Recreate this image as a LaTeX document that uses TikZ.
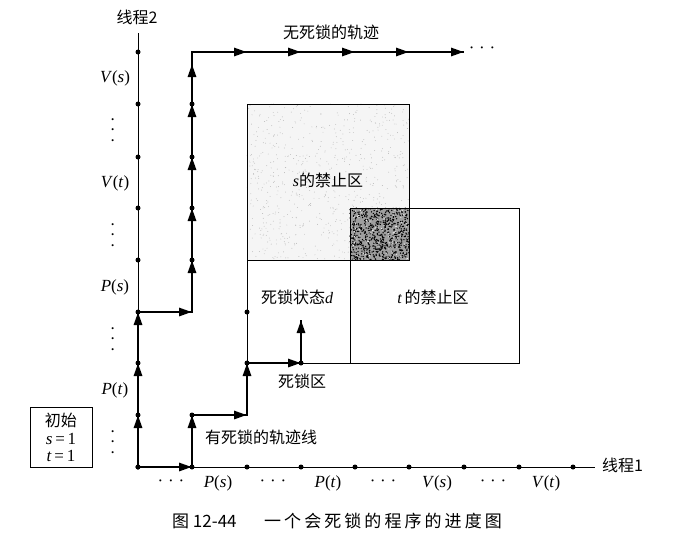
\documentclass[tikz,border=0pt]{standalone}
\usepackage{fontspec}
\setmainfont{Liberation Serif}
\newfontfamily\cjk{Noto Sans CJK SC}
\newfontfamily\cjkwide[LetterSpace=18]{Noto Sans CJK SC}
\usetikzlibrary{arrows.meta}

% operation names set as italic letters with upright parentheses
\newcommand{\opname}[2]{\textit{#1}(\textit{#2})}
\newcommand{\hdots}{·\hspace{0.28em}·\hspace{0.28em}·}
% an italic serif variable inside a CJK label
\newcommand{\ivar}[1]{{\rmfamily\itshape #1}}

\begin{document}
\begin{tikzpicture}[x=1pt,y=-1pt,
  axisline/.style={line width=0.9pt},
  thinbox/.style={line width=0.9pt},
  boldline/.style={line width=2.8pt},
  traj/.style={line width=2.8pt,-{Triangle[length=13pt,width=8pt]}},
  dot/.style={circle,fill,inner sep=0pt,minimum size=5pt},
  cjklabel/.style={font=\cjk\fontsize{16}{16}\selectfont,inner sep=0pt},
  oplabel/.style={font=\fontsize{17}{17}\selectfont,inner sep=0pt},
  vdotlabel/.style={font=\fontsize{17}{17}\selectfont,inner sep=0pt,rotate=90},
]
\useasboundingbox (0,0) rectangle (673,541);

% grid of process states: g<i>-<j>, i along thread 1, j along thread 2
\foreach \xv [count=\i from 0] in {138,192,247,301,355,409,464,519,573} {
  \foreach \yv [count=\j from 0] in {467,415,363,312,260,208,157,104,52} {
    \coordinate (g\i-\j) at (\xv,\yv);
  }
}
\coordinate (tcorner) at (350,208);
\coordinate (tbottom) at (350,363);
\coordinate (ax2top) at (138,33);
\coordinate (ax1end) at (595,467);
\coordinate (dend) at (301,320);

% forbidden region of s: light stipple
\fill[gray!8] (g2-7) rectangle (g5-4);
\pgfmathsetseed{4242}
\foreach \k in {1,...,700} {
  \fill[gray!55] ({247+162*rnd},{104+155*rnd}) circle (0.45pt);
}
% overlap of both regions: dense dark stipple
\fill[gray!75] (tcorner) rectangle (g5-4);
\foreach \k in {1,...,650} {
  \fill[black] ({350+59*rnd},{208+52*rnd}) circle (0.75pt);
}
\foreach \k in {1,...,140} {
  \fill[white] ({350+59*rnd},{208+52*rnd}) circle (0.5pt);
}
\draw[thinbox] (g2-7) rectangle (g5-4);
\draw[thinbox] (tcorner) rectangle (g7-2);
% deadlock region sides
\draw[thinbox] (g2-4) -- (g2-2) -- (tbottom);

% axes
\draw[axisline] (g0-0) -- (ax2top);
\draw[axisline] (g0-0) -- (ax1end);
\foreach \k in {0,...,8} {
  \node[dot] (va\k) at (g0-\k) {};
  \node[dot] (ha\k) at (g\k-0) {};
}

% trajectory that avoids deadlock
\draw[boldline,line join=miter] (g0-0) -- (g0-3) -- (g1-3) -- (g1-8) -- (g6-8);
\draw[traj] (g0-0) -- (g0-1);
\draw[traj] (g0-1) -- (g0-2);
\draw[traj] (g0-2) -- (g0-3);
\draw[traj] (g0-3) -- (g1-3);
\draw[traj] (g1-3) -- (g1-4);
\draw[traj] (g1-4) -- (g1-5);
\draw[traj] (g1-5) -- (g1-6);
\draw[traj] (g1-6) -- (g1-7);
\draw[traj,shorten >=12pt] (g1-7) -- (g1-8);
\draw[traj] (g1-8) -- (g2-8);
\draw[traj] (g2-8) -- (g3-8);
\draw[traj] (g3-8) -- (g4-8);
\draw[traj] (g4-8) -- (g5-8);
\draw[traj] (g5-8) -- (g6-8);
\foreach \k in {4,...,7} { \node[dot] (fa\k) at (g1-\k) {}; }

% trajectory that runs into deadlock
\draw[boldline,line join=miter] (g0-0) -- (g1-0) -- (g1-1) -- (g2-1) -- (g2-2) -- (g3-2) -- (dend);
\draw[traj] (g0-0) -- (g1-0);
\draw[traj] (g1-0) -- (g1-1);
\draw[traj] (g1-1) -- (g2-1);
\draw[traj] (g2-1) -- (g2-2);
\draw[traj] (g2-2) -- (g3-2);
\draw[traj] (g3-2) -- (dend);
\node[dot] (da1) at (g1-1) {};
\node[dot] (da2) at (g2-2) {};
\node[dot] (da3) at (g3-2) {};
\node[dot] (da4) at (g2-3) {};

% axis names
\node[cjklabel] (t2) at (137,17) {线程2};
\node[cjklabel,anchor=west] (t1) at (602,465) {线程1};

% thread 2 operations
\node[oplabel] (l1) at (115,78) {\opname{V}{s}};
\node[vdotlabel] (l2) at (115,130) {\hdots};
\node[oplabel] (l3) at (115,183) {\opname{V}{t}};
\node[vdotlabel] (l4) at (115,235) {\hdots};
\node[oplabel] (l5) at (115,287) {\opname{P}{s}};
\node[vdotlabel] (l6) at (115,339) {\hdots};
\node[oplabel] (l7) at (115,390) {\opname{P}{t}};
\node[vdotlabel] (l8) at (115,442) {\hdots};

% thread 1 operations
\node[oplabel] (b1) at (171,483) {\hdots};
\node[oplabel] (b2) at (218,483) {\opname{P}{s}};
\node[oplabel] (b3) at (273,483) {\hdots};
\node[oplabel] (b4) at (328,483) {\opname{P}{t}};
\node[oplabel] (b5) at (383,483) {\hdots};
\node[oplabel] (b6) at (437,483) {\opname{V}{s}};
\node[oplabel] (b7) at (493,483) {\hdots};
\node[oplabel] (b8) at (546,483) {\opname{V}{t}};

% continuation after the free trajectory
\node[oplabel] (more) at (482,50) {\hdots};

% region and trajectory labels
\node[cjklabel,anchor=west] (free) at (283,32) {无死锁的轨迹};
\node[cjklabel] (sreg) at (328,180) {\ivar{s}的禁止区};
\node[cjklabel] (treg) at (433,297) {\ivar{t}\,的禁止区};
\node[cjklabel] (dstate) at (297,297) {死锁状态\ivar{d}};
\node[cjklabel] (dzone) at (302,381) {死锁区};
\node[cjklabel,anchor=west] (dtraj) at (205,437) {有死锁的轨迹线};

% initial state box
\node[draw,thinbox,minimum width=62pt,minimum height=60pt,inner sep=0pt] (init) at (61,437) {};
\node[cjklabel] (init1) at (61,420) {初始};
\node[oplabel] (init2) at (61,439) {\textit{s}\,=\,1};
\node[oplabel] (init3) at (61,456) {\textit{t}\,=\,1};

% caption
\node[font=\cjk\fontsize{17}{17}\selectfont,inner sep=0pt,anchor=west] (cap1) at (172,521) {图 12-44};
\node[font=\cjkwide\fontsize{17}{17}\selectfont,inner sep=0pt,anchor=west] (cap2) at (264,521) {一个会死锁的程序的进度图};
\end{tikzpicture}
\end{document}
